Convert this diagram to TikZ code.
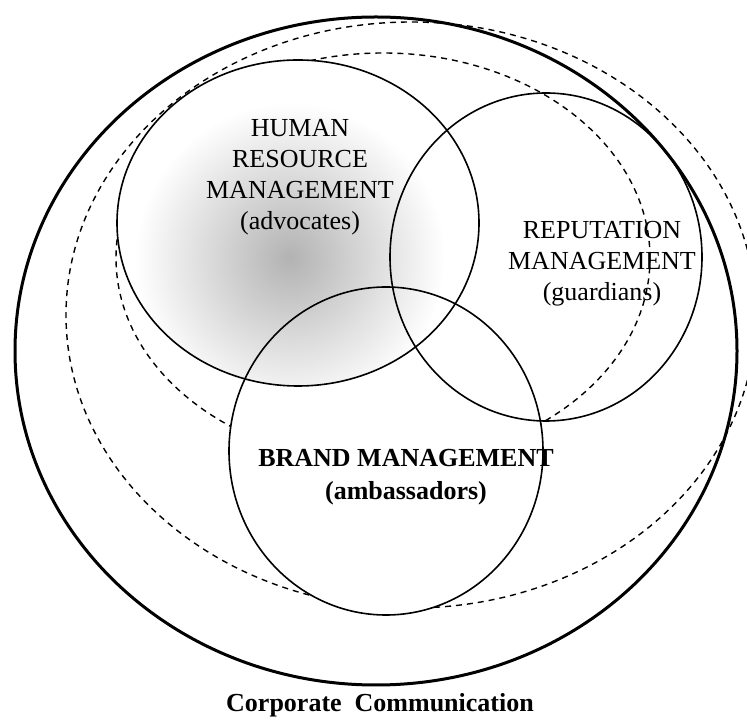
\documentclass[tikz,border=0pt]{standalone}
\usepackage{fontspec}
\setmainfont{Liberation Serif}

\begin{document}
\begin{tikzpicture}[x=1pt,y=1pt,
    every node/.style={align=center,font=\fontsize{26}{31}\selectfont},
    ring/.style={line width=1.6},
    dashring/.style={line width=1.4,dash pattern=on 6pt off 5pt}]
\useasboundingbox (0,0) rectangle (747,720);

% dashed rings, partly hidden by the filled circles
\begin{scope}
    \clip (0,0) rectangle (747,720);
    \draw [dashring] (411,405) ellipse [x radius=345, y radius=293];
    \draw [dashring] (383,462) ellipse [x radius=267, y radius=205];
\end{scope}

\fill [white] (386,269) ellipse [x radius=157, y radius=164];
\fill [white] (298,497) ellipse [x radius=181, y radius=163];
\begin{scope}
    \clip (298,497) ellipse [x radius=181, y radius=163];
    \shade [inner color=black!30, outer color=white] (290,462) circle (155);
\end{scope}

% the circles
\draw [line width=3] (376,369) ellipse [x radius=361, y radius=334];
\draw [ring] (298,497) ellipse [x radius=181, y radius=163];
\draw [ring] (546,463) ellipse [x radius=156, y radius=164];
\draw [ring] (386,269) ellipse [x radius=157, y radius=164];

\node (hrm) at (300,543) {HUMAN\\RESOURCE\\MANAGEMENT\\(advocates)};
\node (rep) at (602,456) {REPUTATION\\MANAGEMENT\\(guardians)};
\node [font=\fontsize{26}{33}\selectfont\bfseries] (brand) at (406,243) {BRAND MANAGEMENT\\(ambassadors)};
\node [font=\fontsize{26}{31}\selectfont\bfseries] (cc) at (380,15) {Corporate~\ Communication};
\end{tikzpicture}
\end{document}
